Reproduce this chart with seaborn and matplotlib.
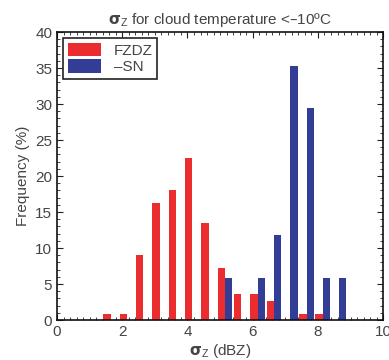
import matplotlib
matplotlib.use('Agg')
import matplotlib.pyplot as plt
from matplotlib.ticker import MultipleLocator
import pandas as pd
import seaborn as sns

# bin centres (sigma_Z, dBZ) and frequencies (%)
bins = [1.65, 2.15, 2.65, 3.15, 3.65, 4.15, 4.65, 5.15, 5.65, 6.15, 6.65, 7.15, 7.65, 8.15, 8.65]
fzdz = [0.85, 0.85, 9.0, 16.2, 18.0, 22.5, 13.5, 7.2, 3.6, 3.6, 2.6, 0.0, 0.85, 0.85, 0.0]
sn = [0.0, 0.0, 0.0, 0.0, 0.0, 0.0, 0.0, 5.9, 0.0, 5.9, 11.8, 35.3, 29.4, 5.9, 5.9]
labels = ['FZDZ', '\u2013SN']
colors = ['#EC2D2F', '#343D96']

df = pd.concat([
    pd.DataFrame({'x': bins, 'freq': fzdz, 'type': labels[0]}),
    pd.DataFrame({'x': bins, 'freq': sn, 'type': labels[1]}),
])

sns.set_style('ticks')
plt.rcParams['font.family'] = ['Liberation Sans', 'DejaVu Sans']
plt.rcParams['mathtext.fontset'] = 'dejavusans'
txt = '#444444'
sig = r'$\mathregular{\mathbf{\sigma}_{Z}}$'

fig = plt.figure(figsize=(3.89, 3.6), dpi=100)
ax = fig.add_axes([0.1465, 0.111, 0.8385, 0.8])

sns.barplot(data=df, x='x', y='freq', hue='type', native_scale=True,
            palette=colors, width=0.9, dodge=True, ax=ax, linewidth=0,
            saturation=1, errorbar=None)

ax.set_xlim(0, 10)
ax.set_ylim(0, 40)
ax.xaxis.set_major_locator(MultipleLocator(2))
ax.xaxis.set_minor_locator(MultipleLocator(0.2))
ax.yaxis.set_major_locator(MultipleLocator(5))
ax.yaxis.set_minor_locator(MultipleLocator(1))
ax.tick_params(which='both', direction='in', top=True, right=True,
               labelsize=11, labelcolor=txt, color='#222222')
ax.tick_params(which='major', length=4)
ax.tick_params(which='minor', length=2)
for s in ax.spines.values():
    s.set_visible(True)
    s.set_color('#111111')
    s.set_linewidth(1.2)

ax.set_title(sig + ' for cloud temperature <\u201310\u00baC',
             fontsize=11, color=txt, pad=6)
ax.set_xlabel(sig + ' (dBZ)', fontsize=11, color=txt, labelpad=2)
ax.set_ylabel('Frequency (%)', fontsize=11, color=txt, labelpad=4)

handles, _ = ax.get_legend_handles_labels()
ax.legend(handles, labels, loc='upper left', frameon=True, fancybox=False,
          edgecolor='#222222', fontsize=11, handlelength=2.2, handleheight=1.0,
          borderaxespad=0.4, labelcolor=txt, framealpha=1,
          borderpad=0.3, labelspacing=0.1)
ax.get_legend().get_frame().set_linewidth(1.2)

fig.savefig('out.png', dpi=100)
